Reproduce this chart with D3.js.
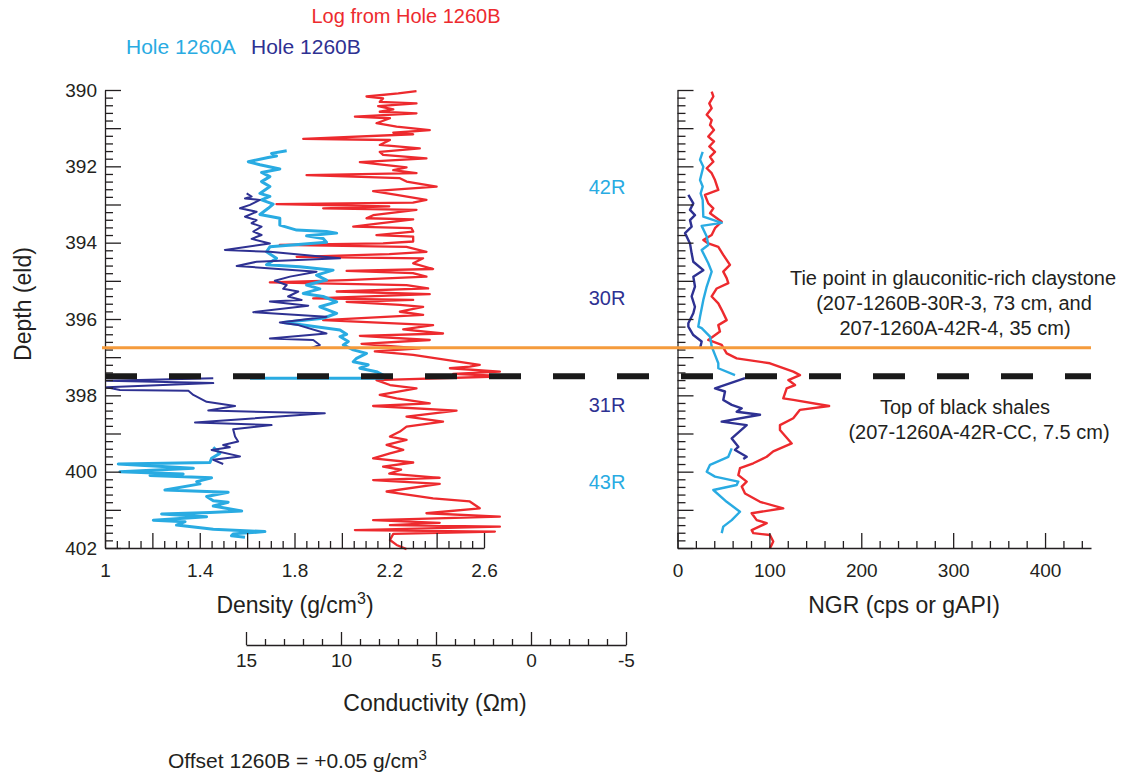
<!DOCTYPE html>
<html>
<head>
<meta charset="utf-8">
<script src="https://cdn.jsdelivr.net/npm/d3@7"></script>
<style>
  body { margin: 0; background: #fff; }
  svg { font-family: "Liberation Sans", Arial, sans-serif; }
  .axis path, .axis line { stroke: #231f20; stroke-width: 1.3; }
  .axis text { font-size: 19px; fill: #231f20; font-family: "Liberation Sans", Arial, sans-serif; }
</style>
</head>
<body>
<div id="chart"></div>
<script>
// data: [depth (m), value]; null marks a gap in the record
const redLog = [
  [390.03,2.315],[390.09,2.238],[390.17,2.104],[390.22,2.174],[390.31,2.160],[390.35,2.315],[390.42,2.153],
  [390.51,2.217],[390.57,2.160],[390.61,2.315],[390.70,2.055],[390.74,2.203],[390.87,2.146],[390.96,2.231],
  [391.05,2.371],[391.12,2.217],[391.16,2.301],[391.28,1.837],[391.31,2.203],[391.44,2.160],[391.53,2.329],
  [391.62,2.160],[391.70,2.174],[391.79,2.357],[391.89,2.076],[391.99,2.217],[392.03,2.273],[392.10,2.217],
  [392.18,2.315],[392.23,1.851],[392.31,2.245],[392.40,2.273],[392.53,2.400],[392.65,2.132],[392.75,2.231],
  [392.88,2.357],[392.95,2.300],[392.99,1.724],[393.05,2.200],[393.10,1.921],[393.14,2.315],[393.28,2.132],
  [393.36,2.104],[393.39,2.301],[393.50,2.150],[393.58,2.048],[393.62,2.294],[393.71,2.301],[393.80,2.146],
  [393.84,2.301],[393.97,2.301],[394.02,2.174],[394.06,1.738],[394.11,2.273],[394.24,2.357],[394.30,2.200],
  [394.37,1.809],[394.41,2.343],[394.54,2.301],[394.69,2.385],[394.74,2.020],[394.80,2.300],[394.89,2.357],
  [394.98,2.020],[395.04,1.696],[395.11,2.273],[395.20,2.364],[395.28,1.978],[395.35,2.371],[395.46,1.879],
  [395.50,2.301],[395.55,2.020],[395.63,2.245],[395.68,2.343],[395.81,2.245],[395.89,2.343],[396.03,1.921],
  [396.16,2.385],[396.27,2.259],[396.38,2.427],[396.44,2.076],[396.55,2.371],[396.65,2.083],[396.77,2.329],
  [396.85,2.139],[396.94,2.301],[397.07,2.441],[397.20,2.582],[397.25,2.540],[397.29,2.456],[397.38,2.667],
  [397.44,2.470],[397.50,2.700],[397.60,2.146],[397.73,2.203],[397.82,2.315],[397.99,2.160],[398.08,2.231],
  [398.21,2.371],[398.28,2.132],[398.40,2.484],[398.56,2.273],[398.69,2.427],[398.82,2.273],[398.95,2.245],
  [399.08,2.203],[399.17,2.273],[399.30,2.189],[399.43,2.259],[399.52,2.203],[399.65,2.132],[399.76,2.301],
  [399.87,2.174],[399.95,2.250],[400.05,2.200],[400.16,2.413],[400.22,2.132],[400.32,2.413],[400.52,2.189],
  [400.70,2.385],[400.78,2.540],[400.96,2.582],[401.09,2.357],[401.18,2.667],[401.27,2.132],[401.34,2.413],
  [401.40,2.203],[401.44,2.667],[401.53,2.055],[401.57,2.646],[401.63,2.217],[401.79,2.203],[401.92,2.231],
  [402.03,2.273]
];

const densityA = [
  [391.59,1.767],[391.66,1.703],[391.73,1.724],[391.77,1.689],[391.88,1.605],[391.96,1.654],[392.07,1.738],
  [392.16,1.661],[392.27,1.696],[392.40,1.661],[392.53,1.696],[392.71,1.654],[392.79,1.696],[392.88,1.661],
  [392.99,1.710],[393.10,1.689],[393.26,1.654],[393.36,1.738],[393.54,1.738],[393.67,1.809],[393.71,1.935],
  [393.75,1.978],[393.82,1.851],[393.89,1.921],[393.99,1.935],[394.11,1.696],[394.24,1.682],[394.41,1.724],
  [394.58,1.682],[394.63,1.823],[394.72,1.963],[394.85,1.893],[394.98,1.935],[395.11,1.851],[395.21,1.907],
  [395.33,1.837],[395.41,1.921],[395.55,1.978],[395.68,1.907],[395.85,1.978],[395.98,1.921],[396.09,1.752],
  [396.16,1.837],[396.29,1.992],[396.40,2.020],[396.46,1.992],[396.59,2.027],[396.68,2.006],[396.81,2.048],
  [396.90,2.104],[397.03,2.062],[397.12,2.048],[397.20,2.111],[397.29,2.076],[397.38,2.146],[397.47,2.174],
  [397.55,2.174],[397.55,1.612],
  null,
  [399.36,1.457],[399.52,1.485],[399.65,1.450],[399.76,1.443],[399.80,1.056],[399.91,1.373],[400.00,1.063],
  [400.06,1.330],[400.10,1.190],[400.16,1.450],[400.26,1.387],[400.32,1.401],[400.48,1.253],[400.52,1.429],
  [400.54,1.520],[400.65,1.429],[400.76,1.457],[400.80,1.520],[400.90,1.457],[401.03,1.577],[401.07,1.443],
  [401.11,1.239],[401.18,1.429],[401.27,1.204],[401.31,1.338],[401.40,1.302],[401.51,1.457],[401.57,1.675],
  [401.63,1.541],[401.68,1.534],[401.72,1.591]
];

const densityB = [
  [392.71,1.598],[392.79,1.619],[392.84,1.591],[392.88,1.654],[393.01,1.612],[393.10,1.570],[393.19,1.640],
  [393.32,1.591],[393.41,1.640],[393.49,1.619],[393.58,1.661],[393.71,1.626],[393.80,1.661],[393.90,1.619],
  [394.02,1.696],[394.19,1.506],[394.24,1.696],[394.41,1.992],[394.50,1.640],[394.61,1.556],[394.76,1.893],
  [394.89,1.781],[395.00,1.717],[395.11,1.767],[395.21,1.752],[395.28,1.816],[395.41,1.773],[395.50,1.830],
  [395.54,1.696],[395.65,1.858],[395.82,1.626],[395.94,1.935],[396.09,1.738],[396.16,1.816],[396.38,1.935],
  [396.51,1.696],[396.55,1.879],[396.68,1.907],[396.77,1.865],
  null,
  [397.55,1.457],[397.62,1.007],[397.68,1.457],[397.79,1.007],[397.86,1.063],[397.88,1.352],[397.99,1.373],
  [398.08,1.401],[398.17,1.429],[398.28,1.549],[398.40,1.436],[398.47,1.928],[398.71,1.380],[398.78,1.703],
  [398.89,1.541],[399.08,1.549],[399.21,1.562],[399.30,1.499],[399.36,1.527],[399.43,1.450],[399.60,1.570],
  [399.69,1.457],[399.80,1.499]
];

const ngrLog = [
  [390.04,37.2],[390.17,39.0],[390.35,34.6],[390.48,37.2],[390.65,31.8],[390.79,37.2],[390.92,35.4],
  [391.05,39.7],[391.22,33.5],[391.35,39.7],[391.48,34.6],[391.62,40.8],[391.75,35.4],[391.88,39.0],
  [392.05,31.8],[392.18,37.2],[392.36,40.8],[392.62,44.4],[392.75,29.9],[392.97,33.5],[393.10,39.0],
  [393.23,35.4],[393.45,48.1],[393.62,40.8],[393.80,37.2],[393.93,28.1],[394.02,33.5],[394.11,44.4],
  [394.32,49.8],[394.58,57.1],[394.76,49.8],[394.93,53.5],[395.06,55.3],[395.20,42.7],[395.41,37.2],
  [395.59,44.4],[395.76,48.1],[396.03,53.5],[396.16,44.4],[396.33,46.2],[396.55,33.5],[396.68,48.1],
  [396.90,53.5],[397.03,64.4],[397.16,100.6],[397.38,126.0],[397.47,133.3],[397.60,120.6],[397.73,127.9],
  [397.82,118.8],[398.08,115.1],[398.12,126.0],[398.28,165.0],[398.38,133.3],[398.60,126.0],[398.78,111.5],
  [398.91,111.5],[399.26,124.3],[399.47,104.2],[399.61,97.1],[399.78,82.5],[399.91,68.0],[400.09,66.2],
  [400.26,75.3],[400.39,69.9],[400.57,73.5],[400.79,89.8],[400.96,115.1],[401.09,80.7],[401.27,86.2],
  [401.35,97.1],[401.53,80.7],[401.61,82.5],[401.66,100.6],[401.83,104.2],[402.01,100.6]
];

const ngrA = [
  [391.62,27.4],[391.83,24.5],[392.01,28.1],[392.36,24.5],[392.53,27.4],[392.71,25.2],[392.88,27.4],
  [393.32,28.1],[393.48,48.1],[393.56,26.3],[393.84,31.8],[394.06,33.5],[394.19,26.3],[394.54,33.5],
  [394.76,37.2],[395.15,31.8],[395.50,28.1],[395.94,24.5],[396.20,22.6],[396.24,26.3],[396.46,35.4],
  [396.72,37.2],[396.94,40.8],[397.16,44.4],[397.29,44.4],[397.47,62.6],
  null,
  [399.39,59.0],[399.61,55.3],[399.82,35.4],[400.00,31.8],[400.13,40.8],[400.26,66.2],[400.35,64.4],
  [400.48,39.0],[400.79,53.5],[401.05,68.0],[401.27,59.0],[401.44,49.8],[401.61,48.1]
];

const ngrB = [
  [392.75,11.8],[392.97,17.2],[393.14,13.6],[393.28,19.0],[393.41,13.6],[393.58,15.4],[393.75,8.2],
  [394.02,13.6],[394.28,15.4],[394.50,17.2],[394.72,28.1],[394.89,17.2],[395.15,19.0],[395.41,15.4],
  [395.68,19.0],[395.85,17.2],[396.11,11.8],[396.20,11.8],[396.42,17.2],[396.59,26.3],[396.77,24.5],
  null,
  [397.55,73.5],[397.82,40.8],[397.90,51.7],[398.12,49.8],[398.25,59.0],[398.34,69.9],[398.43,64.4],
  [398.51,89.8],[398.69,48.1],[398.78,75.3],[399.13,59.0],[399.35,66.2],[399.43,62.6],[399.61,75.3],
  [399.67,71.6]
];

// horizontal markers (depth in m)
const tiePointDepth = 396.75;
const blackShaleDepth = 397.5;

// tick values
const depthTicks = d3.range(0, 61).map((i) => 390 + i * 0.2);
const densityTicks = d3.range(0, 33).map((i) => 1 + i * 0.05);
const ngrTicks = d3.range(0, 23).map((i) => i * 20);
const conductivityTicks = d3.range(15, -6, -1);

const colors = {
  red: "#ed2a2e",
  holeA: "#29abe2",
  holeB: "#2e3192",
  orange: "#f59b3c",
  text: "#231f20",
};

const width = 1144;
const height = 774;

const svg = d3
  .select("#chart")
  .append("svg")
  .attr("width", width)
  .attr("height", height);

// scales
const y = d3.scaleLinear().domain([390, 402]).range([90, 548]);
const xDensity = d3.scaleLinear().domain([1, 2.6]).range([105, 484]);
const xNgr = d3.scaleLinear().domain([0, 450]).range([677.5, 1091]);
const xCond = d3.scaleLinear().domain([15, -5]).range([246, 626]);

// draw the logs
function drawLog(data, xScale, color, strokeWidth) {
  const line = d3
    .line()
    .defined((d) => d !== null)
    .x((d) => xScale(d[1]))
    .y((d) => y(d[0]));

  svg
    .append("path")
    .datum(data)
    .attr("d", line)
    .attr("fill", "none")
    .attr("stroke", color)
    .attr("stroke-width", strokeWidth)
    .attr("stroke-linejoin", "round");
}

drawLog(redLog, xDensity, colors.red, 2.3);
drawLog(densityA, xDensity, colors.holeA, 3);
drawLog(densityB, xDensity, colors.holeB, 2);
drawLog(ngrLog, xNgr, colors.red, 2.4);
drawLog(ngrA, xNgr, colors.holeA, 2.4);
drawLog(ngrB, xNgr, colors.holeB, 2.4);

// axes
const gDepth = svg
  .append("g")
  .attr("class", "axis")
  .attr("transform", `translate(${xDensity(1)},0)`)
  .call(
    d3
      .axisLeft(y)
      .tickValues(depthTicks)
      .tickSizeInner(-8)
      .tickSizeOuter(0)
      .tickPadding(8)
      .tickFormat((d, i) => (i % 10 === 0 ? Math.round(d) : ""))
  );
gDepth.selectAll(".tick line").attr("x2", (d, i) => (i % 5 === 0 ? 16 : 8));

const gDepthRight = svg
  .append("g")
  .attr("class", "axis")
  .attr("transform", `translate(${xNgr(0)},0)`)
  .call(
    d3.axisRight(y).tickValues(depthTicks).tickSizeOuter(0).tickFormat("")
  );
gDepthRight.selectAll(".tick line").attr("x2", (d, i) => (i % 5 === 0 ? 16 : 8));

const gDensity = svg
  .append("g")
  .attr("class", "axis")
  .attr("transform", `translate(0,${y(402)})`)
  .call(
    d3
      .axisBottom(xDensity)
      .tickValues(densityTicks)
      .tickSizeInner(-7)
      .tickSizeOuter(0)
      .tickPadding(16)
      .tickFormat((d, i) => (i % 8 === 0 ? Math.round(d * 10) / 10 : ""))
  );
gDensity.selectAll(".tick line").attr("y2", (d, i) => (i % 4 === 0 ? -15 : -7));

const gNgr = svg
  .append("g")
  .attr("class", "axis")
  .attr("transform", `translate(0,${y(402)})`)
  .call(
    d3
      .axisBottom(xNgr)
      .tickValues(ngrTicks)
      .tickSizeInner(-7)
      .tickSizeOuter(0)
      .tickPadding(16)
      .tickFormat((d, i) => (i % 5 === 0 ? d : ""))
  );
gNgr.selectAll(".tick line").attr("y2", (d, i) => (i % 5 === 0 ? -15 : -7));

const gCond = svg
  .append("g")
  .attr("class", "axis")
  .attr("transform", "translate(0,645)")
  .call(
    d3
      .axisBottom(xCond)
      .tickValues(conductivityTicks)
      .tickSizeInner(-6)
      .tickSizeOuter(0)
      .tickPadding(9)
      .tickFormat((d) => (d % 5 === 0 ? d : ""))
  );
gCond.selectAll(".tick line").attr("y2", (d) => (d % 5 === 0 ? -13 : -6));

// marker lines
svg
  .append("line")
  .attr("x1", 102)
  .attr("x2", 1091)
  .attr("y1", y(tiePointDepth))
  .attr("y2", y(tiePointDepth))
  .attr("stroke", colors.orange)
  .attr("stroke-width", 3);

svg
  .append("line")
  .attr("x1", xDensity(1))
  .attr("x2", 1091)
  .attr("y1", y(blackShaleDepth))
  .attr("y2", y(blackShaleDepth))
  .attr("stroke", "#1a1a1a")
  .attr("stroke-width", 6)
  .attr("stroke-dasharray", "32,32");

// labels
function addText(x, yPos, str, size, color, anchor) {
  return svg
    .append("text")
    .attr("x", x)
    .attr("y", yPos)
    .style("font-size", size + "px")
    .style("fill", color || colors.text)
    .attr("text-anchor", anchor || "start")
    .text(str);
}

addText(406, 23, "Log from Hole 1260B", 20, colors.red, "middle");
addText(126, 54, "Hole 1260A", 21, colors.holeA);
addText(251, 54, "Hole 1260B", 21, colors.holeB);

addText(607, 194, "42R", 20, colors.holeA, "middle");
addText(607, 305, "30R", 20, colors.holeB, "middle");
addText(607, 412, "31R", 20, colors.holeB, "middle");
addText(607, 489, "43R", 20, colors.holeA, "middle");

addText(953, 285, "Tie point in glauconitic-rich claystone", 20, null, "middle");
addText(954, 310, "(207-1260B-30R-3, 73 cm, and", 20, null, "middle");
addText(955, 335, "207-1260A-42R-4, 35 cm)", 20, null, "middle");
addText(965, 414, "Top of black shales", 20, null, "middle");
addText(979, 439, "(207-1260A-42R-CC, 7.5 cm)", 20, null, "middle");

addText(0, 0, "Depth (eld)", 23, null, "middle")
  .attr("transform", "translate(31,304) rotate(-90)");

const densityTitle = addText(295, 613, "Density (g/cm", 23, null, "middle");
densityTitle.append("tspan").attr("dy", -9).style("font-size", "16px").text("3");
densityTitle.append("tspan").attr("dy", 9).text(")");

addText(904, 613, "NGR (cps or gAPI)", 23, null, "middle");
addText(435, 711, "Conductivity (Ωm)", 23, null, "middle");

const offsetNote = addText(168, 768, "Offset 1260B = +0.05 g/cm", 21);
offsetNote.append("tspan").attr("dy", -8).style("font-size", "15px").text("3");
</script>
</body>
</html>
